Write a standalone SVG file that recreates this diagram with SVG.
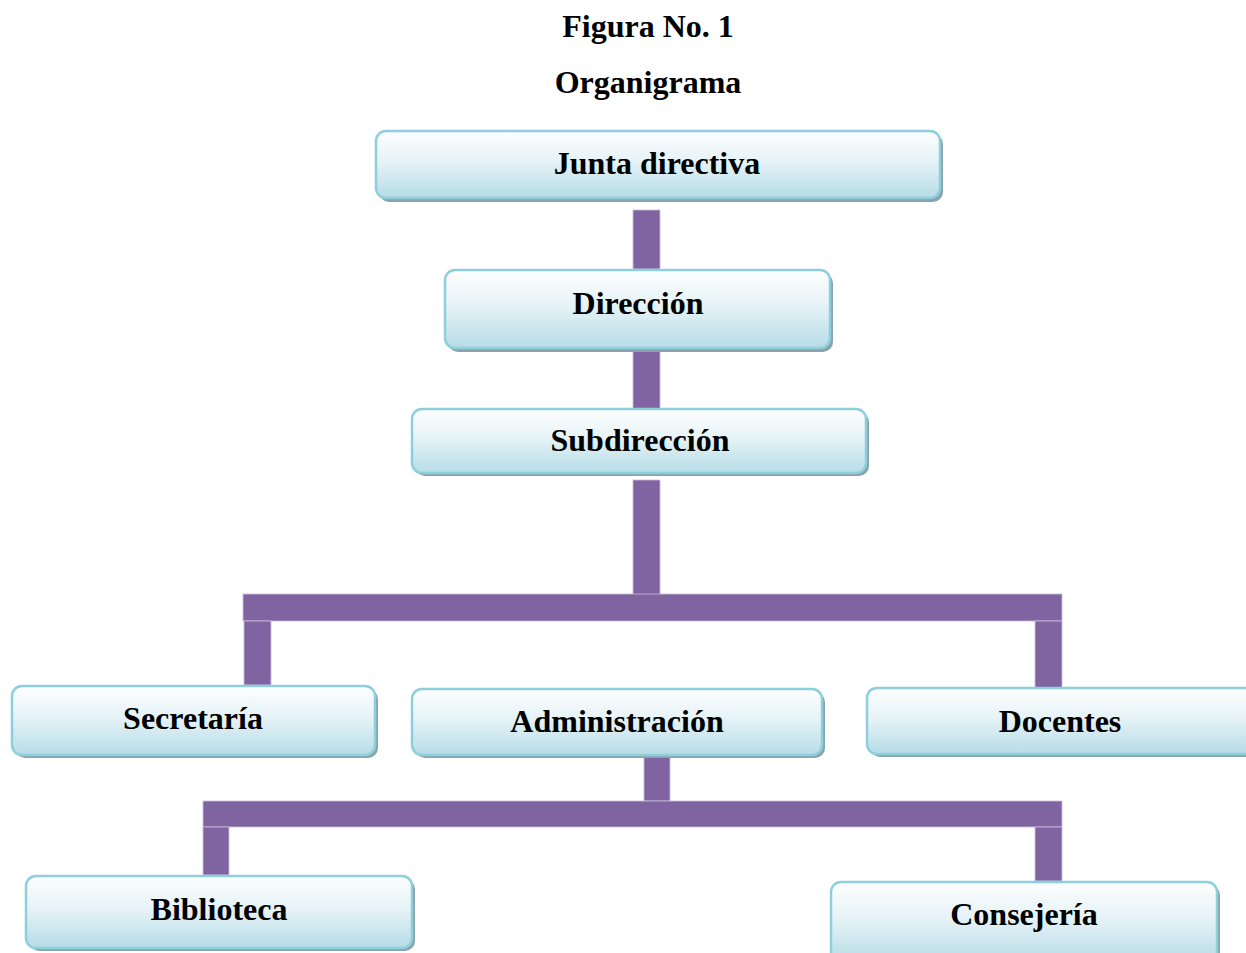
<svg xmlns="http://www.w3.org/2000/svg" width="1246" height="953" viewBox="0 0 1246 953">
<defs>
<linearGradient id="g" x1="0" y1="0" x2="0" y2="1">
<stop offset="0" stop-color="#fdfefe"/>
<stop offset="0.45" stop-color="#e6f3f7"/>
<stop offset="1" stop-color="#b6dce6"/>
</linearGradient>
<style>
.sh{fill:#8aa3ab;}
.bx{fill:url(#g);stroke:#8ecfdd;stroke-width:2.5;}
.t{font-family:"Liberation Serif","Times New Roman",serif;font-weight:bold;font-size:32px;fill:#000;text-anchor:middle;}
.c{fill:#8064a2;stroke:#c9bdd9;stroke-width:0.8;}
</style>
</defs>
<rect width="1246" height="953" fill="#fff"/>
<text class="t" x="648" y="37">Figura No. 1</text>
<text class="t" x="648" y="93">Organigrama</text>
<g id="connectors">
<rect class="c" x="633" y="210" width="27" height="59"/>
<rect class="c" x="633" y="350" width="27" height="60"/>
<rect class="c" x="633" y="480" width="27" height="115"/>
<rect class="c" x="243" y="594" width="819" height="27"/>
<rect class="c" x="244" y="621" width="27" height="64"/>
<rect class="c" x="1035" y="621" width="27" height="67"/>
<rect class="c" x="644" y="754" width="26" height="47"/>
<rect class="c" x="203" y="801" width="859" height="26"/>
<rect class="c" x="203" y="827" width="26" height="48"/>
<rect class="c" x="1035" y="827" width="27" height="54"/>
</g>
<g id="junta">
<rect class="sh" x="379" y="134" width="564" height="68" rx="10"/>
<rect class="bx" x="376" y="131" width="564" height="67" rx="10"/>
<text class="t" x="657" y="174">Junta directiva</text>
</g>
<g id="direccion">
<rect class="sh" x="448" y="273" width="385" height="79" rx="10"/>
<rect class="bx" x="445" y="270" width="385" height="78" rx="10"/>
<text class="t" x="638" y="314">Dirección</text>
</g>
<g id="subdireccion">
<rect class="sh" x="415" y="412" width="454" height="64" rx="10"/>
<rect class="bx" x="412" y="409" width="454" height="64" rx="10"/>
<text class="t" x="640" y="451">Subdirección</text>
</g>
<g id="secretaria">
<rect class="sh" x="15" y="689" width="363" height="69" rx="10"/>
<rect class="bx" x="12" y="686" width="363" height="69" rx="10"/>
<text class="t" x="193" y="729">Secretaría</text>
</g>
<g id="administracion">
<rect class="sh" x="415" y="692" width="410" height="66" rx="10"/>
<rect class="bx" x="412" y="689" width="410" height="66" rx="10"/>
<text class="t" x="617" y="732">Administración</text>
</g>
<g id="docentes">
<rect class="sh" x="870" y="691" width="400" height="66" rx="10"/>
<rect class="bx" x="867" y="688" width="400" height="66" rx="10"/>
<text class="t" x="1060" y="732">Docentes</text>
</g>
<g id="biblioteca">
<rect class="sh" x="29" y="879" width="386" height="72" rx="10"/>
<rect class="bx" x="26" y="876" width="386" height="72" rx="10"/>
<text class="t" x="219" y="920">Biblioteca</text>
</g>
<g id="consejeria">
<rect class="sh" x="834" y="885" width="386" height="80" rx="10"/>
<rect class="bx" x="831" y="882" width="386" height="80" rx="10"/>
<text class="t" x="1024" y="925">Consejería</text>
</g>
</svg>
